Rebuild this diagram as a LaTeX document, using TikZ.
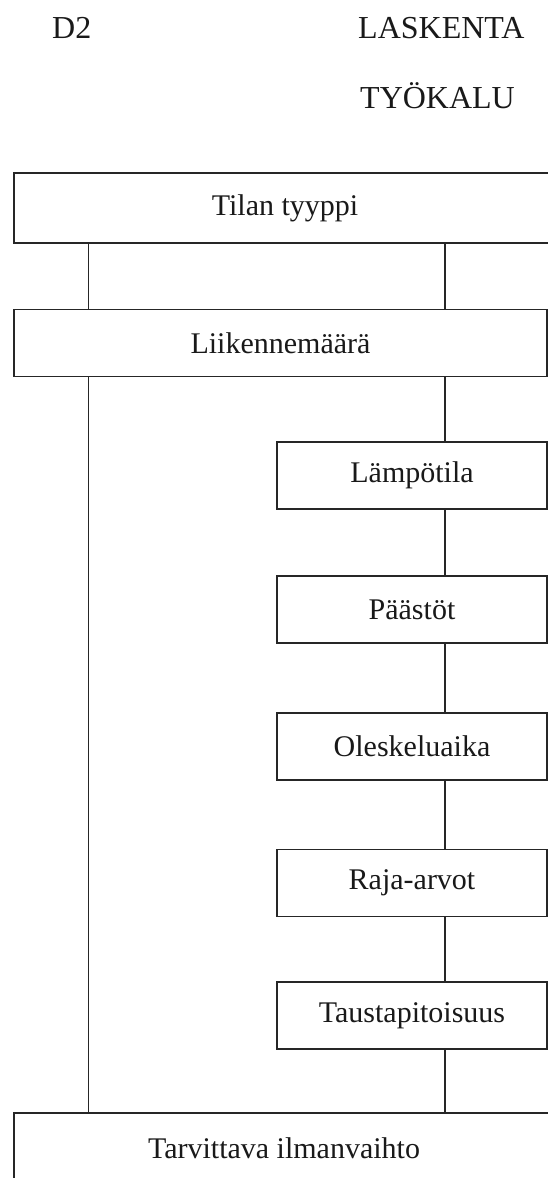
\documentclass[tikz,border=0pt]{standalone}
\usepackage{fontspec}
\setmainfont{Liberation Serif}
\begin{document}
\begin{tikzpicture}[x=1pt,y=-1pt,
  box/.style={draw=black!85, line width=1.8pt, rectangle, inner sep=0pt,
    font=\fontsize{30}{36}\selectfont, text=black!90},
  wide/.style={box, minimum height=70pt},
  small/.style={box, minimum width=270pt, minimum height=67pt},
  heading/.style={anchor=base west, inner sep=0pt, font=\fontsize{32}{38}\selectfont, text=black!90},
  conn/.style={draw=black!85, line width=1.8pt}]
\useasboundingbox (0,0) rectangle (548,1178);
\fill[white] (0,0) rectangle (548,1178);
% headings
\node[heading] (d2) at (52,38) {D2};
\node[heading] (las) at (358,38) {LASKENTA};
\node[heading] (tyo) at (360,108) {TYÖKALU};
% boxes
\node[wide, minimum width=542pt] (tt) at (285,208) {Tilan tyyppi};
\node[wide, minimum width=533pt, minimum height=67pt] (lm) at (280.5,343) {Liikennemäärä};
\node[small] (la) at (412,475.5) {Lämpötila};
\node[small] (pa) at (412,609.5) {Päästöt};
\node[small] (ol) at (412,746.5) {Oleskeluaika};
\node[small] (ra) at (412,883) {Raja-arvot};
\node[small] (ta) at (412,1015.5) {Taustapitoisuus};
\node[wide, minimum width=540pt] (ti) at (284,1148) {Tarvittava ilmanvaihto};
% connector columns
\coordinate (lx) at (88.5,0);
\coordinate (rx) at (445,0);
\draw[conn] (tt.south -| lx) -- (lm.north -| lx);
\draw[conn] (tt.south -| rx) -- (lm.north -| rx);
\draw[conn] (lm.south -| lx) -- (ti.north -| lx);
\draw[conn] (lm.south -| rx) -- (la.north -| rx);
\draw[conn] (la.south -| rx) -- (pa.north -| rx);
\draw[conn] (pa.south -| rx) -- (ol.north -| rx);
\draw[conn] (ol.south -| rx) -- (ra.north -| rx);
\draw[conn] (ra.south -| rx) -- (ta.north -| rx);
\draw[conn] (ta.south -| rx) -- (ti.north -| rx);
\end{tikzpicture}
\end{document}
